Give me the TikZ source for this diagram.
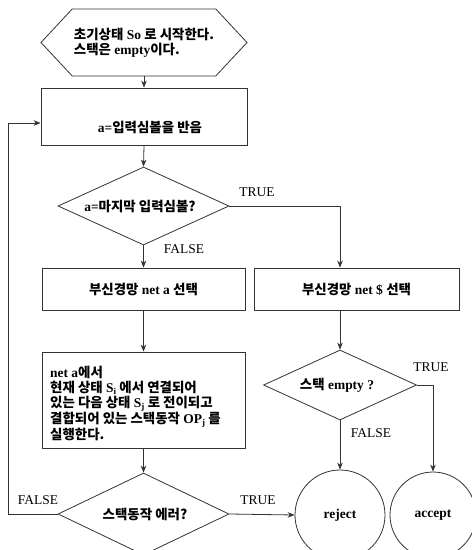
\documentclass[tikz,border=0pt]{standalone}
\usepackage{fontspec}
\setmainfont{Liberation Serif}
\newfontfamily\kr{Noto Sans CJK KR}
\usetikzlibrary{shapes.geometric,shapes.symbols,arrows.meta}
\newcommand\K[1]{{\kr\bfseries #1}}
\newcommand\sbs[1]{\raisebox{-0.3ex}{\fontsize{9}{9}\selectfont #1}}
\definecolor{ln}{HTML}{333333}
\tikzset{
  box/.style={draw=ln, line width=0.8bp, rectangle, inner sep=0pt},
  dia/.style={draw=ln, line width=0.8bp, diamond, inner sep=0pt},
  term/.style={draw=ln, line width=0.8bp, circle, inner sep=0pt},
  txt/.style={font=\bfseries\fontsize{13.5}{15}\selectfont, inner sep=0pt},
  lbl/.style={font=\fontsize{13.5}{16}\selectfont, inner sep=0pt},
  arr/.style={draw=ln, line width=0.8bp, -{Stealth[length=7bp,width=5.5bp]}},
  ln/.style={draw=ln, line width=0.8bp}
}
\begin{document}
\begin{tikzpicture}[x=1bp,y=-1bp]
\fill[white] (0,0) rectangle (472,550);
\clip (0,0) rectangle (472,550);
% nodes
\node[draw=ln, line width=0.8bp, signal, signal to=west and east, signal pointer angle=94,
      minimum width=206bp, minimum height=67bp, inner sep=0pt,
      txt, align=left] (hex) at (144,42.5)
  {\K{초기상태} So \K{로 시작한다.}\\\K{스택은} empty\K{이다.}};
\node[box, minimum width=206bp, minimum height=57bp] (box1) at (144,116.5) {};
\node[txt] (t1) at (150,127) {a=\K{입력심볼을 반음}};
\node[dia, minimum width=171bp, minimum height=78bp] (d1) at (143.5,206) {};
\node[txt] (t2) at (140,206) {a=\K{마지막 입력심볼?}};
\node[box, minimum width=203bp, minimum height=42bp, txt] (box2) at (143.5,289) {\K{부신경망} net a \K{선택}};
\node[box, minimum width=205bp, minimum height=42bp, txt] (box3) at (356.5,289) {\K{부신경망} net \$ \K{선택}};
\node[box, minimum width=203bp, minimum height=96bp] (big) at (143.5,400) {};
\node[txt, align=left, anchor=north west] (t3) at (50,366)
  {net a\K{에서}\\
   \K{현재 상태} S\sbs{i} \K{에서 연결되어}\\
   \K{있는 다음 상태} S\sbs{j} \K{로 전이되고}\\
   \K{결합되어 있는 스택동작} OP\sbs{j} \K{를}\\
   \K{실행한다.}};
\node[dia, minimum width=171bp, minimum height=82bp] (d2) at (143.5,514) {};
\node[txt] (t4) at (145,514) {\K{스택동작 에러?}};
\node[dia, minimum width=153bp, minimum height=70bp] (d3) at (340,385) {};
\node[txt] (t5) at (337,385) {\K{스택} empty ?};
\node[term, minimum size=90bp, txt] (rej) at (340,515) {reject};
\node[term, minimum size=86bp, txt] (acc) at (433,515) {accept};
% labels
\node[lbl] (l1) at (257,192) {TRUE};
\node[lbl] (l2) at (184,249) {FALSE};
\node[lbl] (l3) at (431,367) {TRUE};
\node[lbl] (l4) at (371,433) {FALSE};
\node[lbl] (l5) at (38,500) {FALSE};
\node[lbl] (l6) at (258,500) {TRUE};
\coordinate (lp) at (8,123);
% connectors
\draw[arr] (hex.south) -- (box1.north);
\draw[arr] (box1.south) -- (d1.north);
\draw[arr] (d1.south) -- (box2.north);
\draw[arr] (box2.south) -- (big.north);
\draw[arr] (big.south) -- (d2.north);
\draw[arr] (d1.east) -| (box3.north -| d3.north);
\draw[arr] (box3.south -| d3.north) -- (d3.north);
\draw[arr] (d3.south) -- (rej.north);
\draw[arr] (d3.east) -| (acc.north);
\draw[arr] (d2.east) -- (rej.west);
\draw[arr] (d2.west) -| (lp) -- (lp -| box1.west);
\end{tikzpicture}
\end{document}
